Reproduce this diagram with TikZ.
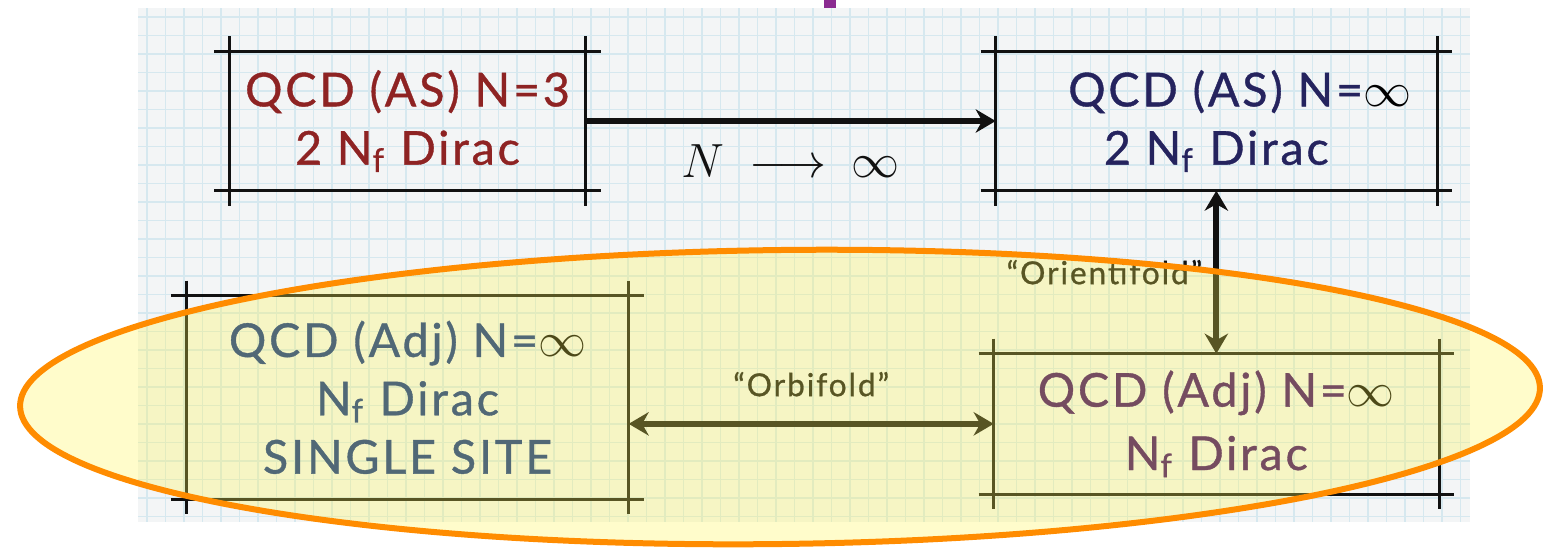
\documentclass[tikz,border=0pt]{standalone}
\usepackage{fontspec}
\setmainfont{Lato}
\newfontfamily\qcdfont{Lato}[LetterSpace=6, FakeBold=0.8]
\usepackage{tikz}
\usetikzlibrary{arrows.meta, positioning, shapes.geometric}
\definecolor{sheet}{HTML}{F3F5F6}
\definecolor{gridblue}{HTML}{D6E8EF}
\definecolor{ink}{HTML}{111111}
\definecolor{wine}{HTML}{8E2323}
\definecolor{navy}{HTML}{25235E}
\definecolor{slate}{HTML}{062C86}
\definecolor{plum}{HTML}{3A0466}
\definecolor{marker}{HTML}{FFF553}
\definecolor{tangerine}{HTML}{FF8C00}
\definecolor{violet}{HTML}{8B2B91}
\newcommand{\Nf}{N\textsubscript{f}}
\newcommand{\Ninf}{N={\color{black}$\infty$}}
\tikzset{
  qcdbox/.style={rectangle, inner sep=0pt, align=center,
    font=\qcdfont\fontsize{14}{17.5}\selectfont},
  boxline/.style={draw=ink, line width=0.9pt},
  arrow/.style={-{Stealth[length=6pt, width=7pt]}, line width=1.8pt, ink},
  arrowdd/.style={{Stealth[length=6pt, width=7pt]}-{Stealth[length=6pt, width=7pt]}, line width=1.8pt, ink},
  linklabel/.style={font=\qcdfont\fontsize{9.5}{11}\selectfont, text=ink},
  gridline/.style={gridblue, line width=0.35pt},
  hilite/.style={ellipse, draw=tangerine, line width=1.8pt, fill=marker, fill opacity=0.3, draw opacity=1},
}

\begin{document}
\begin{tikzpicture}[x=0.3pt, y=-0.3pt]
\useasboundingbox (0,0) rectangle (1544,548);
\fill[sheet] (138,8) rectangle (1470,522);
\foreach \gx in {147,165.5,...,1470} \draw[gridline] (\gx,8) -- (\gx,522);
\foreach \gy in {17,35.5,...,522} \draw[gridline] (138,\gy) -- (1470,\gy);
\fill[violet] (824,0) rectangle (836,8);

\node[qcdbox, text=wine, minimum width=106.5pt, minimum height=41.4pt] (ql) at (407.5,121)
  {QCD (AS) N=3\\2 \Nf{} Dirac};
\node[qcdbox, text=navy, minimum width=132pt, minimum height=41.4pt, right=123pt of ql] (qr)
  {\hspace*{14pt}QCD (AS) \Ninf\\2 \Nf{} Dirac};
\node[qcdbox, text=slate, minimum width=132.3pt, minimum height=60.6pt, below=31.5pt of ql] (al)
  {QCD (Adj) \Ninf\\\Nf{} Dirac\\SINGLE SITE};
\node[qcdbox, text=plum, minimum width=133.2pt, minimum height=41.7pt, below=48.9pt of qr] (ar)
  {QCD (Adj) \Ninf\\[1.5pt]\Nf{} Dirac};

\foreach \n in {ql,qr,al,ar} {
  \draw[boxline] ([xshift=-4.5pt]\n.north west) -- ([xshift=4.5pt]\n.north east);
  \draw[boxline] ([xshift=-4.5pt]\n.south west) -- ([xshift=4.5pt]\n.south east);
  \draw[boxline] ([yshift=4.5pt]\n.north west) -- ([yshift=-4.5pt]\n.south west);
  \draw[boxline] ([yshift=4.5pt]\n.north east) -- ([yshift=-4.5pt]\n.south east);
}

\draw[arrow] (ql) -- node[midway, below=3pt, font=\fontsize{14}{17}\selectfont] (limit)
  {$N\ \longrightarrow\ \infty$} (qr);
\draw[arrowdd] (ar) -- node[midway, left, linklabel] (orient) {“Orientifold”} (qr);
\draw[arrowdd] (al.east |- ar.west) -- node[midway, above=4pt, linklabel] (orbi) {“Orbifold”} (ar.west);

\node[hilite, minimum width=456pt, minimum height=88.2pt, rotate=0.7] (focus) at (780,397) {};
\end{tikzpicture}
\end{document}
